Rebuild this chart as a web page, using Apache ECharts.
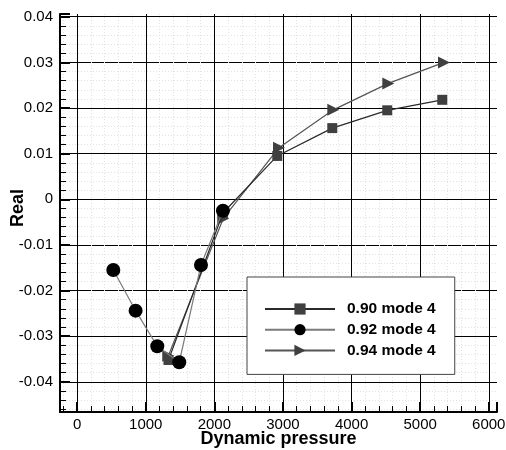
<!DOCTYPE html>
<html>
<head>
<meta charset="utf-8">
<script src="https://cdn.jsdelivr.net/npm/echarts@6/dist/echarts.min.js"></script>
<style>
  html, body { margin: 0; padding: 0; background: #fff; }
  #chart { width: 506px; height: 450px; }
</style>
</head>
<body>
<div id="chart"></div>
<script>
// Real part vs dynamic pressure, mode 4 at three Mach numbers
const seriesNames = ['0.90 mode 4', '0.92 mode 4', '0.94 mode 4'];

// [dynamic pressure, real part]
const mach090 = [
  [1331, -0.0352], [2125, -0.0030], [2917, 0.0095],
  [3719, 0.0156], [4520, 0.0195], [5322, 0.0218]
];
const mach092 = [
  [527, -0.0155], [852, -0.0244], [1168, -0.0322],
  [1488, -0.0357], [1805, -0.0144], [2125, -0.0025]
];
const mach094 = [
  [1328, -0.0343], [2130, -0.0042], [2942, 0.0113],
  [3734, 0.0196], [4536, 0.0254], [5347, 0.0300]
];

// axis extents; major steps 1000 / 0.01 come from splitNumber
const xRange = [-250, 6120];
const yRange = [-0.0466, 0.0406];

const FONT = '"Liberation Sans", Arial, Helvetica, sans-serif';

function axisCommon() {
  return {
    axisLine: { show: true, onZero: false, lineStyle: { color: '#000', width: 2 } },
    axisTick: { show: true, inside: true, length: 10, lineStyle: { color: '#000', width: 2 } },
    minorTick: { show: true, splitNumber: 5, length: 6, lineStyle: { color: '#000', width: 1 } },
    splitLine: { show: true, showMinLine: false, showMaxLine: false,
                 lineStyle: { color: '#000', width: 1 } },
    minorSplitLine: { show: true, lineStyle: { color: '#e2e2e2', width: 1, type: [1, 2] } },
    axisLabel: { color: '#000', fontSize: 15, fontFamily: FONT,
                 showMinLabel: false, showMaxLabel: false },
    nameMoveOverlap: false,
    nameTextStyle: { color: '#000', fontSize: 18, fontWeight: 'bold', fontFamily: FONT }
  };
}

const chart = echarts.init(document.getElementById('chart'), null, { renderer: 'canvas' });

const xAxis = Object.assign(axisCommon(), {
  type: 'value', min: xRange[0], max: xRange[1], splitNumber: 6,
  name: 'Dynamic pressure', nameLocation: 'middle', nameGap: 18
});
xAxis.axisLabel.margin = 5;
xAxis.axisLabel.formatter = function (v) { return String(Math.round(v)); };

const yAxis = Object.assign(axisCommon(), {
  type: 'value', min: yRange[0], max: yRange[1], splitNumber: 9,
  name: 'Real', nameLocation: 'middle', nameGap: 33
});
yAxis.axisLabel.margin = 7;
yAxis.nameTextStyle.padding = [0, 0, 0, 10];

chart.setOption({
  animation: false,
  backgroundColor: '#fff',
  textStyle: { fontFamily: FONT },
  grid: { left: 60, right: 9, top: 14, bottom: 38, containLabel: false, outerBoundsMode: 'none' },
  xAxis: xAxis,
  yAxis: yAxis,
  legend: {
    data: seriesNames,
    orient: 'vertical',
    left: 247, top: 277,
    padding: [24, 19, 16, 17],
    itemWidth: 70, itemHeight: 14, itemGap: 4.7,
    backgroundColor: '#fff',
    borderColor: '#444', borderWidth: 1, borderRadius: 0,
    textStyle: { color: '#000', fontSize: 15.5, fontWeight: 'bold', fontFamily: FONT, padding: [0, 0, 0, 7] }
  },
  series: [
    {
      name: seriesNames[0], type: 'line', data: mach090, z: 3,
      symbol: 'rect', symbolSize: 10,
      itemStyle: { color: '#404040' },
      lineStyle: { color: '#2a2a2a', width: 1.2 }
    },
    {
      name: seriesNames[1], type: 'line', data: mach092, z: 4,
      symbol: 'circle', symbolSize: 14,
      itemStyle: { color: '#000' },
      lineStyle: { color: '#7a7a7a', width: 1.2 }
    },
    {
      name: seriesNames[2], type: 'line', data: mach094, z: 2,
      symbol: 'triangle', symbolSize: 12, symbolRotate: -90,
      itemStyle: { color: '#404040' },
      lineStyle: { color: '#555', width: 1.2 }
    }
  ]
});
</script>
</body>
</html>
